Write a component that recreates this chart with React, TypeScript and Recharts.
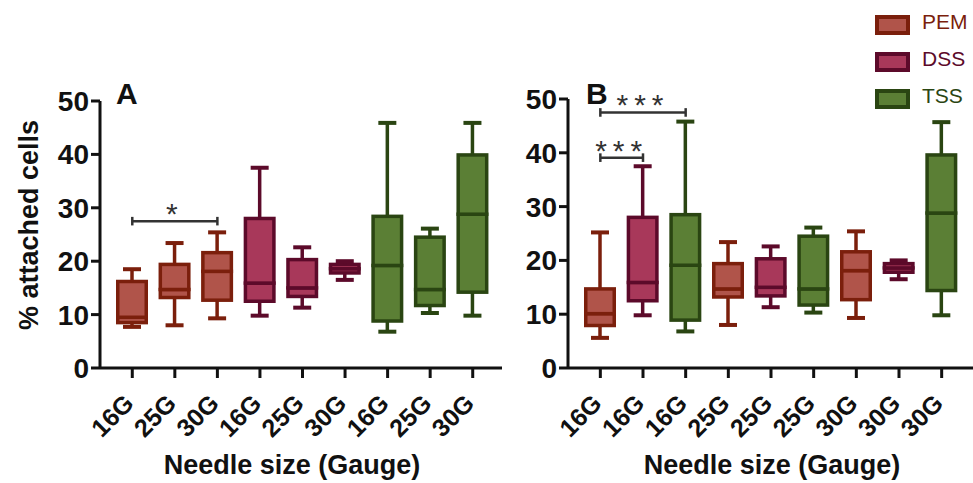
import { ComposedChart, Bar, XAxis, YAxis, ReferenceLine } from 'recharts'

const FONT = '"Liberation Sans", Arial, sans-serif'

const COLORS: Record<string, { fill: string; stroke: string }> = {
  PEM: { fill: '#b0544a', stroke: '#7b1f0c' },
  DSS: { fill: '#a8385a', stroke: '#5c0a2a' },
  TSS: { fill: '#5b7f35', stroke: '#2a4512' },
}
const LEGEND = ['PEM', 'DSS', 'TSS']

// panel A: grouped by material
const CATEGORIES_A = ['16G', '25G', '30G', '16G', '25G', '30G', '16G', '25G', '30G']
const MATERIALS_A = ['PEM', 'PEM', 'PEM', 'DSS', 'DSS', 'DSS', 'TSS', 'TSS', 'TSS']
const MIN_A = [7.7, 8.0, 9.3, 9.8, 11.3, 16.5, 6.8, 10.3, 9.8]
const Q1_A = [8.5, 13.2, 12.7, 12.5, 13.4, 17.8, 8.8, 11.7, 14.2]
const MEDIAN_A = [9.5, 14.7, 18.1, 15.9, 15.0, 18.6, 19.2, 14.7, 28.8]
const Q3_A = [16.2, 19.4, 21.6, 28.0, 20.3, 19.4, 28.4, 24.5, 39.9]
const MAX_A = [18.5, 23.4, 25.4, 37.5, 22.6, 20.0, 45.9, 26.1, 45.9]

// panel B: grouped by needle size
const CATEGORIES_B = ['16G', '16G', '16G', '25G', '25G', '25G', '30G', '30G', '30G']
const MATERIALS_B = ['PEM', 'DSS', 'TSS', 'PEM', 'DSS', 'TSS', 'PEM', 'DSS', 'TSS']
const MIN_B = [5.6, 9.8, 6.8, 8.0, 11.3, 10.3, 9.3, 16.5, 9.8]
const Q1_B = [7.9, 12.5, 8.9, 13.2, 13.4, 11.7, 12.7, 17.8, 14.4]
const MEDIAN_B = [10.1, 15.9, 19.1, 14.7, 15.0, 14.7, 18.1, 18.6, 28.8]
const Q3_B = [14.7, 28.0, 28.5, 19.4, 20.3, 24.5, 21.6, 19.4, 39.6]
const MAX_B = [25.2, 37.5, 45.8, 23.4, 22.6, 26.1, 25.4, 20.0, 45.7]

const SIG_A = [{ from: 0, to: 2, y: 27.5, stars: '*' }]
const SIG_B = [
  { from: 0, to: 1, y: 39.1, stars: '***' },
  { from: 0, to: 2, y: 47.5, stars: '***' },
]

const Y_TICKS = [0, 10, 20, 30, 40, 50]

function buildRows(cats: string[], mats: string[], min: number[], q1: number[], med: number[], q3: number[], max: number[]) {
  return cats.map((c, i) => ({
    id: String(i),
    label: c,
    material: mats[i],
    base: min[i],
    lowW: q1[i] - min[i],
    lowBox: med[i] - q1[i],
    upBox: q3[i] - med[i],
    upW: max[i] - q3[i],
  }))
}

const rowsA = buildRows(CATEGORIES_A, MATERIALS_A, MIN_A, Q1_A, MEDIAN_A, Q3_A, MAX_A)
const rowsB = buildRows(CATEGORIES_B, MATERIALS_B, MIN_B, Q1_B, MEDIAN_B, Q3_B, MAX_B)

const BoxPart = (props: any) => {
  const { x, y, width, height, payload } = props
  const c = COLORS[payload.material]
  return <rect x={x + 1.75} y={y} width={width - 3.5} height={height} fill={c.fill} stroke={c.stroke} strokeWidth={3.5} />
}

const whisker = (up: boolean) => (props: any) => {
  const { x, y, width, height, payload } = props
  const c = COLORS[payload.material]
  const cx = x + width / 2
  const capY = up ? y : y + height
  return (
    <g>
      <line x1={cx} x2={cx} y1={y} y2={y + height} stroke={c.stroke} strokeWidth={3.5} />
      <line x1={cx - 9} x2={cx + 9} y1={capY} y2={capY} stroke={c.stroke} strokeWidth={4} />
    </g>
  )
}

const GaugeTick = (props: any) => {
  const { x, y, payload, labels } = props
  return (
    <g transform={`translate(${x + 3},${y + 25}) rotate(-45)`}>
      <text x={0} y={0} textAnchor="end" fontFamily={FONT} fontWeight={700} fontSize={25} fill="#111">
        {labels[Number(payload.value)]}
      </text>
    </g>
  )
}

function Panel({ rows, labels, sig, width, yWidth, top, padL, padR }: any) {
  const axisStyle = { stroke: '#111', strokeWidth: 3 }
  return (
    <ComposedChart width={width} height={483} data={rows} margin={{ top, right: 0, bottom: 0, left: 0 }}>
      <XAxis dataKey="id" type="category" interval={0} height={115} padding={{ left: padL, right: padR }}
        axisLine={axisStyle} tickLine={axisStyle} tickSize={10}
        tick={(p: any) => <GaugeTick {...p} labels={labels} />} />
      <YAxis type="number" domain={[0, 50]} ticks={Y_TICKS} interval={0} width={yWidth}
        axisLine={axisStyle} tickLine={axisStyle} tickSize={9} allowDataOverflow
        tick={{ fontFamily: FONT, fontWeight: 700, fontSize: 28, fill: '#111' }} />
      <Bar dataKey="base" stackId="s" barSize={32} fill="none" shape={() => <g />} isAnimationActive={false} />
      <Bar dataKey="lowW" stackId="s" barSize={32} shape={whisker(false)} isAnimationActive={false} />
      <Bar dataKey="lowBox" stackId="s" barSize={32} shape={BoxPart} isAnimationActive={false} />
      <Bar dataKey="upBox" stackId="s" barSize={32} shape={BoxPart} isAnimationActive={false} />
      <Bar dataKey="upW" stackId="s" barSize={32} shape={whisker(true)} isAnimationActive={false} />
      {sig.map((s: any, i: number) => (
        <ReferenceLine key={`m${i}`} segment={[{ x: String(s.from), y: s.y }, { x: String(s.to), y: s.y }]}
          stroke="#333" strokeWidth={2.5} ifOverflow="visible"
          label={{ value: s.stars, position: 'top', offset: -3, fontSize: 30, letterSpacing: 6, fill: '#333', fontFamily: FONT }} />
      ))}
      {sig.flatMap((s: any, i: number) => [s.from, s.to].map((k) => (
        <ReferenceLine key={`c${i}-${k}`} segment={[{ x: String(k), y: s.y - 0.8 }, { x: String(k), y: s.y + 0.8 }]}
          stroke="#333" strokeWidth={2.5} ifOverflow="visible" />
      )))}
    </ComposedChart>
  )
}

export default function App() {
  const textStyle = { fontFamily: FONT, fontWeight: 700, fill: '#111' }
  return (
    <div style={{ position: 'absolute', left: 0, top: 0, width: 973, height: 483, background: '#fff', overflow: 'hidden' }}>
      <div style={{ position: 'absolute', left: 0, top: 0 }}>
        <Panel rows={rowsA} labels={CATEGORIES_A} sig={SIG_A} width={502} yWidth={100} top={101} padL={11} padR={8} />
      </div>
      <div style={{ position: 'absolute', left: 480, top: 0 }}>
        <Panel rows={rowsB} labels={CATEGORIES_B} sig={SIG_B} width={493} yWidth={88} top={99} padL={11} padR={10} />
      </div>
      <svg width={973} height={483} style={{ position: 'absolute', left: 0, top: 0, pointerEvents: 'none' }}>
        <text x={116} y={104} fontSize={30} {...textStyle}>A</text>
        <text x={586} y={104} fontSize={30} {...textStyle}>B</text>
        <text transform="translate(38,225) rotate(-90)" textAnchor="middle" fontSize={27} {...textStyle}>% attached cells</text>
        <text x={292} y={474} textAnchor="middle" fontSize={27} {...textStyle}>Needle size (Gauge)</text>
        <text x={772} y={474} textAnchor="middle" fontSize={27} {...textStyle}>Needle size (Gauge)</text>
        {LEGEND.map((m, i) => (
          <g key={m}>
            <rect x={877} y={17 + i * 37} width={31} height={16} fill={COLORS[m].fill} stroke={COLORS[m].stroke} strokeWidth={4} />
            <text x={922} y={29 + i * 37} fontSize={21} fontFamily={FONT} fill={COLORS[m].stroke}>{m}</text>
          </g>
        ))}
      </svg>
    </div>
  )
}
